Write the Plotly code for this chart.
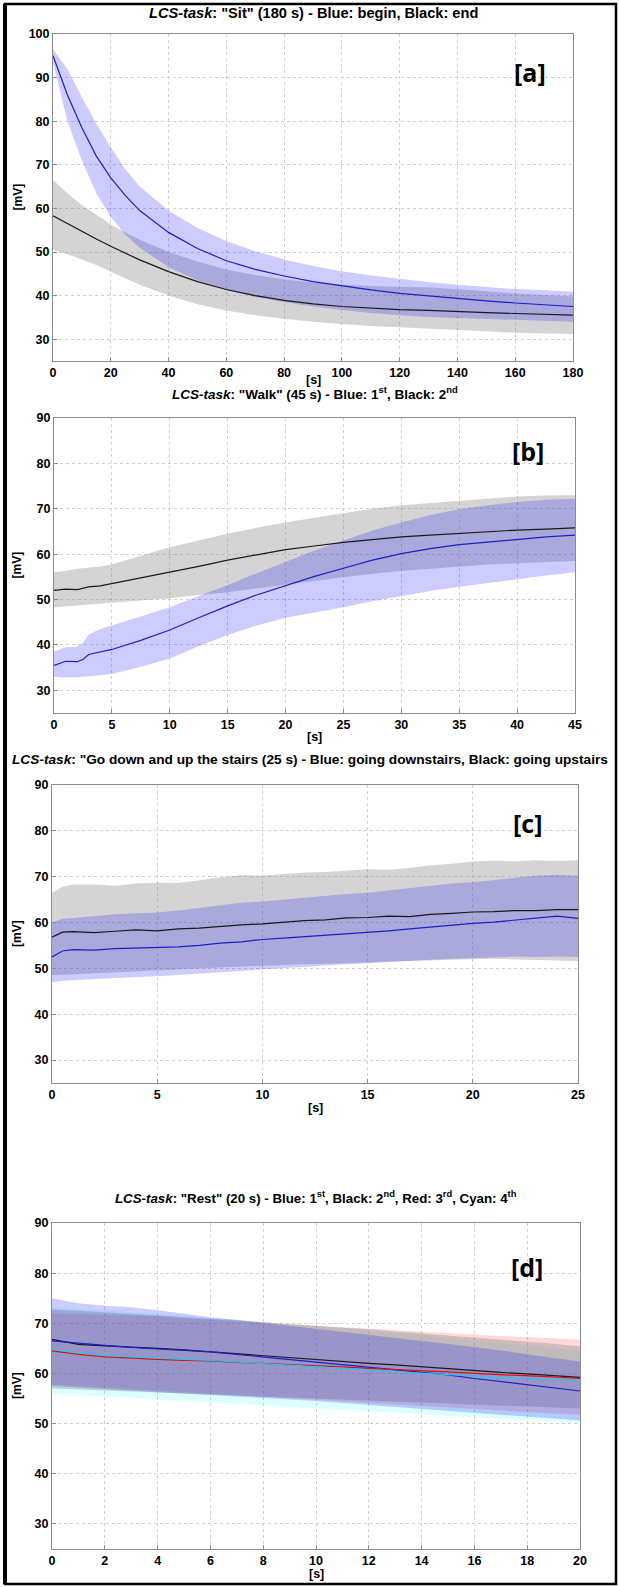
import plotly.graph_objects as go

W, H = 619, 1587

# ---------------- Panel a : "Sit" (180 s) ----------------
a_t = [0, 5, 10, 15, 20, 25, 30, 40, 50, 60, 70, 80, 90, 100, 110, 120, 130, 140, 150, 160, 170, 180]
a_blue_mean = [95, 86, 78.5, 72, 67, 63, 59.5, 54.5, 50.8, 48, 46, 44.5, 43.2, 42.2, 41.3, 40.5, 39.9, 39.3, 38.8, 38.3, 37.9, 37.5]
a_blue_up = [96.5, 92, 85.5, 79.5, 74, 69, 65, 59.5, 55.5, 52.5, 50.2, 48.3, 46.8, 45.6, 44.6, 43.8, 43.1, 42.5, 42, 41.5, 41.2, 40.9]
a_blue_lo = [93.5, 80, 71, 63.5, 58, 54, 51, 46.5, 43.5, 41.3, 39.7, 38.5, 37.5, 36.7, 36, 35.5, 35.1, 34.8, 34.6, 34.4, 34.2, 34]
a_black_mean = [58.3, 56.5, 54.8, 53, 51.3, 49.7, 48.2, 45.5, 43.2, 41.4, 40, 38.9, 38.1, 37.5, 37.1, 36.8, 36.6, 36.3, 36.1, 35.9, 35.7, 35.5]
a_black_up = [66.5, 63.5, 60.8, 58.5, 56.3, 54.5, 52.8, 50, 47.8, 46, 44.7, 43.7, 43, 42.5, 42.2, 42, 41.9, 41.5, 41, 40.5, 40.1, 39.8]
a_black_lo = [50.5, 49.5, 48.3, 47, 45.5, 44, 42.5, 40, 38, 36.6, 35.5, 34.7, 34, 33.5, 33, 32.7, 32.4, 32.1, 31.8, 31.5, 31.3, 31.2]

# ---------------- Panel b : "Walk" (45 s) ----------------
b_t = [0, 1, 2, 2.5, 3, 4, 5, 7.5, 10, 12.5, 15, 17.5, 20, 22.5, 25, 27.5, 30, 32.5, 35, 37.5, 40, 42.5, 45]
b_blue_mean = [35.5, 36.4, 36.3, 36.8, 37.9, 38.4, 39.0, 41.0, 43.3, 46.0, 48.6, 51.0, 53.1, 55.1, 56.9, 58.7, 60.1, 61.2, 62.1, 62.7, 63.3, 63.8, 64.2]
b_blue_up = [38.5, 39.5, 39.6, 40.5, 42.3, 43.5, 44.3, 46.3, 48.3, 50.8, 53.2, 55.8, 58.3, 60.8, 63.0, 65.2, 67.0, 68.6, 69.9, 70.8, 71.5, 72.0, 72.2]
b_blue_lo = [33.0, 32.8, 32.9, 33.0, 33.2, 33.3, 33.6, 35.2, 37.0, 39.7, 42.2, 44.3, 46.0, 47.2, 48.3, 49.6, 50.8, 51.9, 52.8, 53.7, 54.5, 55.3, 56.0]
b_black_mean = [52.0, 52.3, 52.2, 52.5, 52.8, 53.0, 53.5, 54.8, 56.0, 57.3, 58.7, 59.8, 61.0, 61.8, 62.6, 63.2, 63.8, 64.2, 64.6, 64.9, 65.3, 65.5, 65.8]
b_black_up = [56.0, 56.3, 56.8, 56.9, 57.0, 57.3, 57.7, 59.6, 61.5, 63.0, 64.5, 65.8, 67.0, 68.0, 69.0, 70.0, 70.8, 71.3, 71.8, 72.3, 72.7, 72.9, 73.0]
b_black_lo = [48.3, 48.5, 48.8, 48.9, 49.0, 49.2, 49.3, 49.8, 50.3, 51.0, 51.6, 52.5, 53.3, 54.1, 54.9, 55.7, 56.3, 56.8, 57.3, 57.7, 58.0, 58.3, 58.5]

# ---------------- Panel c : stairs (25 s) ----------------
c_t = [0, 0.5, 1, 2, 3, 4, 5, 6, 7, 8, 9, 10, 11, 12, 13, 14, 15, 16, 17, 18, 19, 20, 21, 22, 23, 24, 25]
c_black_up = [66.5, 67.8, 68.3, 68.3, 68.0, 68.5, 68.7, 68.6, 69.2, 69.9, 70.3, 70.2, 70.6, 70.9, 71.0, 71.3, 71.6, 71.5, 71.9, 72.5, 72.8, 73.3, 73.5, 73.3, 73.6, 73.4, 73.6]
c_black_mean = [56.8, 57.9, 58.0, 57.8, 58.1, 58.4, 58.2, 58.6, 58.8, 59.2, 59.5, 59.7, 60.1, 60.4, 60.6, 61.0, 61.1, 61.4, 61.3, 61.8, 62.0, 62.3, 62.4, 62.6, 62.6, 62.8, 62.8]
c_black_lo = [48.5, 48.7, 48.8, 49.0, 49.2, 49.4, 49.6, 49.8, 50.0, 50.2, 50.4, 50.6, 50.8, 50.9, 51.0, 51.1, 51.3, 51.5, 51.6, 51.8, 51.9, 52.0, 52.1, 52.0, 51.8, 51.7, 51.6]
c_blue_up = [60.0, 60.8, 61.0, 61.4, 61.8, 62.0, 62.2, 62.6, 63.2, 63.8, 64.3, 64.6, 65.0, 65.5, 65.9, 66.2, 66.5, 67.0, 67.5, 68.0, 68.5, 68.8, 69.3, 69.8, 70.2, 70.4, 70.2]
c_blue_mean = [52.5, 53.8, 54.1, 54.0, 54.3, 54.4, 54.5, 54.7, 55.0, 55.5, 55.8, 56.3, 56.6, 56.9, 57.2, 57.5, 57.9, 58.2, 58.6, 59.0, 59.5, 59.8, 60.1, 60.5, 60.9, 61.4, 60.9]
c_blue_lo = [47.0, 47.3, 47.5, 47.7, 47.9, 48.1, 48.3, 48.6, 48.9, 49.2, 49.5, 49.8, 50.1, 50.3, 50.6, 50.9, 51.1, 51.4, 51.6, 51.9, 52.1, 52.3, 52.4, 52.6, 52.5, 52.6, 52.5]

# ---------------- Panel d : "Rest" (20 s) ----------------
d_t = list(range(0, 21))
d_blue_mean = [66.5, 66.0, 65.6, 65.2, 64.9, 64.6, 64.3, 63.8, 63.3, 62.8, 62.3, 61.8, 61.3, 60.8, 60.3, 59.7, 59.0, 58.4, 57.8, 57.1, 56.5]
d_blue_up = [75.0, 74.0, 73.5, 73.2, 72.6, 71.9, 71.2, 70.7, 70.1, 69.5, 69.0, 68.4, 67.8, 67.2, 66.6, 66.0, 65.3, 64.6, 63.8, 63.1, 62.4]
d_blue_lo = [57.5, 57.2, 56.9, 56.6, 56.3, 56.0, 55.7, 55.4, 55.1, 54.8, 54.5, 54.1, 53.8, 53.4, 53.0, 52.6, 52.2, 51.8, 51.4, 51.0, 50.6]
d_black_mean = [66.8, 65.8, 65.5, 65.3, 65.0, 64.7, 64.3, 63.9, 63.5, 63.2, 62.8, 62.4, 62.0, 61.7, 61.3, 60.9, 60.5, 60.2, 59.9, 59.5, 59.2]
d_black_up = [72.8, 72.5, 72.2, 71.9, 71.6, 71.3, 71.0, 70.6, 70.2, 69.8, 69.4, 69.1, 68.8, 68.4, 68.0, 67.6, 67.2, 66.8, 66.4, 65.9, 65.4]
d_black_lo = [57.0, 56.9, 56.6, 56.4, 56.3, 56.0, 55.8, 55.7, 55.4, 55.2, 55.0, 54.9, 54.6, 54.4, 54.2, 54.0, 53.8, 53.7, 53.4, 53.2, 53.0]
d_red_mean = [64.5, 63.8, 63.3, 63.0, 62.8, 62.6, 62.5, 62.2, 62.0, 61.8, 61.6, 61.3, 61.0, 60.8, 60.5, 60.3, 60.0, 59.8, 59.5, 59.3, 59.0]
d_red_up = [72.0, 71.9, 71.7, 71.5, 71.4, 71.0, 70.7, 70.5, 70.2, 69.9, 69.6, 69.3, 69.0, 68.7, 68.4, 68.1, 67.8, 67.5, 67.2, 67.0, 66.7]
d_red_lo = [57.8, 57.4, 57.1, 56.8, 56.5, 56.2, 55.9, 55.6, 55.3, 55.0, 54.7, 54.4, 54.1, 53.8, 53.5, 53.2, 52.9, 52.6, 52.3, 52.0, 51.7]
d_cyan_mean = [64.8, 64.1, 63.6, 63.3, 63.0, 62.8, 62.6, 62.3, 62.0, 61.7, 61.4, 61.0, 60.7, 60.3, 60.0, 59.7, 59.4, 59.2, 59.0, 58.8, 58.6]
d_cyan_up = [73.2, 72.9, 72.6, 72.3, 71.9, 71.5, 71.1, 70.7, 70.3, 69.9, 69.5, 69.1, 68.6, 68.1, 67.6, 67.1, 66.6, 66.1, 65.6, 65.1, 64.6]
d_cyan_lo = [56.0, 55.7, 55.5, 55.2, 54.9, 54.6, 54.3, 54.0, 53.7, 53.4, 53.1, 52.8, 52.5, 52.2, 51.9, 51.6, 51.3, 51.0, 50.7, 50.4, 50.1]

titles = [
    '<b><i>LCS-task</i>: "Sit" (180 s) - Blue: begin, Black: end</b>',
    '<b><i>LCS-task</i>: "Walk" (45 s) - Blue: 1<sup>st</sup>, Black: 2<sup>nd</sup></b>',
    '<b><i>LCS-task</i>: "Go down and up the stairs (25 s) - Blue: going downstairs, Black: going upstairs</b>',
    '<b><i>LCS-task</i>: "Rest" (20 s) - Blue: 1<sup>st</sup>, Black: 2<sup>nd</sup>, Red: 3<sup>rd</sup>, Cyan: 4<sup>th</sup></b>',
]
title_sizes = [14.6, 13.5, 13.7, 13.3]
panel_tags = ['[a]', '[b]', '[c]', '[d]']
tag_pos = [(165, 91.2), (40.9, 82.8), (22.6, 81.8), (18.0, 81.2)]

# layout in pixels: (left, right, top, bottom)
boxes = [(53, 573, 34, 361), (54, 575, 418, 713), (52, 578, 785, 1083), (52, 580, 1223, 1549)]
title_y = [13, 393, 759, 1197]
s_label_y = [380, 737, 1108, 1574]
x_ranges = [[0, 180], [0, 45], [0, 25], [0, 20]]
x_dtick = [20, 5, 5, 2]
y_ranges = [[25, 100], [25, 90], [25, 90], [25, 90]]

BLUE_FILL = 'rgba(0,0,255,0.2)'
GREY_FILL = 'rgba(128,128,128,0.34)'
RED_FILL = 'rgba(255,0,0,0.15)'
CYAN_FILL = 'rgba(0,255,255,0.13)'
BLUE_LINE = '#1e1ec8'
BLACK_LINE = '#1a1a1a'
RED_LINE = '#e01010'
CYAN_LINE = '#20c8f0'

fig = go.Figure()


def band(t, up, lo, color, k):
    ax = '' if k == 1 else str(k)
    fig.add_trace(go.Scatter(x=list(t) + list(t)[::-1], y=list(up) + list(lo)[::-1],
                             fill='toself', fillcolor=color, line=dict(width=0),
                             mode='lines', hoverinfo='skip', showlegend=False,
                             xaxis='x' + ax, yaxis='y' + ax))


def line(t, y, color, k):
    ax = '' if k == 1 else str(k)
    fig.add_trace(go.Scatter(x=t, y=y, mode='lines', line=dict(color=color, width=1.2),
                             showlegend=False, xaxis='x' + ax, yaxis='y' + ax))


# panel a
band(a_t, a_black_up, a_black_lo, GREY_FILL, 1)
band(a_t, a_blue_up, a_blue_lo, BLUE_FILL, 1)
line(a_t, a_black_mean, BLACK_LINE, 1)
line(a_t, a_blue_mean, BLUE_LINE, 1)
# panel b
band(b_t, b_black_up, b_black_lo, GREY_FILL, 2)
band(b_t, b_blue_up, b_blue_lo, BLUE_FILL, 2)
line(b_t, b_black_mean, BLACK_LINE, 2)
line(b_t, b_blue_mean, BLUE_LINE, 2)
# panel c
band(c_t, c_black_up, c_black_lo, GREY_FILL, 3)
band(c_t, c_blue_up, c_blue_lo, BLUE_FILL, 3)
line(c_t, c_black_mean, BLACK_LINE, 3)
line(c_t, c_blue_mean, BLUE_LINE, 3)
# panel d
band(d_t, d_cyan_up, d_cyan_lo, CYAN_FILL, 4)
band(d_t, d_red_up, d_red_lo, RED_FILL, 4)
band(d_t, d_black_up, d_black_lo, GREY_FILL, 4)
band(d_t, d_blue_up, d_blue_lo, BLUE_FILL, 4)
line(d_t, d_black_mean, BLACK_LINE, 4)
line(d_t, d_blue_mean, BLUE_LINE, 4)
line(d_t, d_red_mean, RED_LINE, 4)
line(d_t, d_cyan_mean, CYAN_LINE, 4)

FONT = 'Liberation Sans, Arial, sans-serif'
layout = dict(width=W, height=H, margin=dict(l=0, r=0, t=0, b=0, autoexpand=False),
              paper_bgcolor='white', plot_bgcolor='white', showlegend=False,
              font=dict(family=FONT, color='black'))
annotations = []
shapes = []

for i in range(4):
    k = i + 1
    l, r, t, b = boxes[i]
    sx = '' if k == 1 else str(k)
    common = dict(showline=True, mirror=True, linecolor='#8c8c8c', linewidth=1,
                  ticks='inside', ticklen=4, tickcolor='#8c8c8c',
                  showgrid=True, gridcolor='#d0d0d0', griddash='dot', gridwidth=1,
                  zeroline=False, tickfont=dict(family=FONT, size=12.5, color='black'),
                  fixedrange=True, automargin=False)
    layout['xaxis' + sx] = dict(common, domain=[l / W, r / W], range=x_ranges[i],
                                dtick=x_dtick[i], tick0=0, anchor='y' + sx,
                                tickprefix='<b>', ticksuffix='</b>')
    layout['yaxis' + sx] = dict(common, domain=[1 - b / H, 1 - t / H], range=y_ranges[i],
                                dtick=10, tick0=0, anchor='x' + sx,
                                tickprefix='<b>', ticksuffix='</b>')
    annotations.append(dict(text=titles[i], x=(l + r) / 2 / W if i != 2 else 0.5, y=1 - title_y[i] / H,
                            xref='paper', yref='paper', showarrow=False,
                            xanchor='center', yanchor='middle',
                            font=dict(family=FONT, size=title_sizes[i], color='black')))
    annotations.append(dict(text='<b>[s]</b>', x=(l + r) / 2 / W, y=1 - s_label_y[i] / H,
                            xref='paper', yref='paper', showarrow=False,
                            xanchor='center', yanchor='middle',
                            font=dict(family=FONT, size=12.5, color='black')))
    annotations.append(dict(text='<b>[mV]</b>', x=17 / W, y=1 - (t + b) / 2 / H,
                            xref='paper', yref='paper', showarrow=False, textangle=-90,
                            xanchor='center', yanchor='middle',
                            font=dict(family=FONT, size=12, color='black')))
    annotations.append(dict(text='<b>' + panel_tags[i] + '</b>', x=tag_pos[i][0], y=tag_pos[i][1],
                            xref='x' + sx, yref='y' + sx, showarrow=False,
                            xanchor='center', yanchor='middle',
                            font=dict(family='Open Sans, Liberation Sans, sans-serif', size=25, color='black')))

# figure frame
shapes.append(dict(type='rect', xref='paper', yref='paper', x0=5 / W, x1=616 / W, y0=1 - 1584 / H, y1=1 - 4 / H,
                   line=dict(color='black', width=2.5)))
shapes.append(dict(type='line', xref='paper', yref='paper', x0=5 / W, x1=5 / W, y0=1 - 1584 / H, y1=1 - 4 / H,
                   line=dict(color='black', width=4)))

layout['annotations'] = annotations
layout['shapes'] = shapes
fig.update_layout(**layout)
fig.write_html('out.html', config={'displayModeBar': False},
               post_script="document.body.style.margin='0';document.body.style.padding='0';"
                           "document.body.style.overflow='hidden';"
                           "document.documentElement.style.overflow='hidden';")
